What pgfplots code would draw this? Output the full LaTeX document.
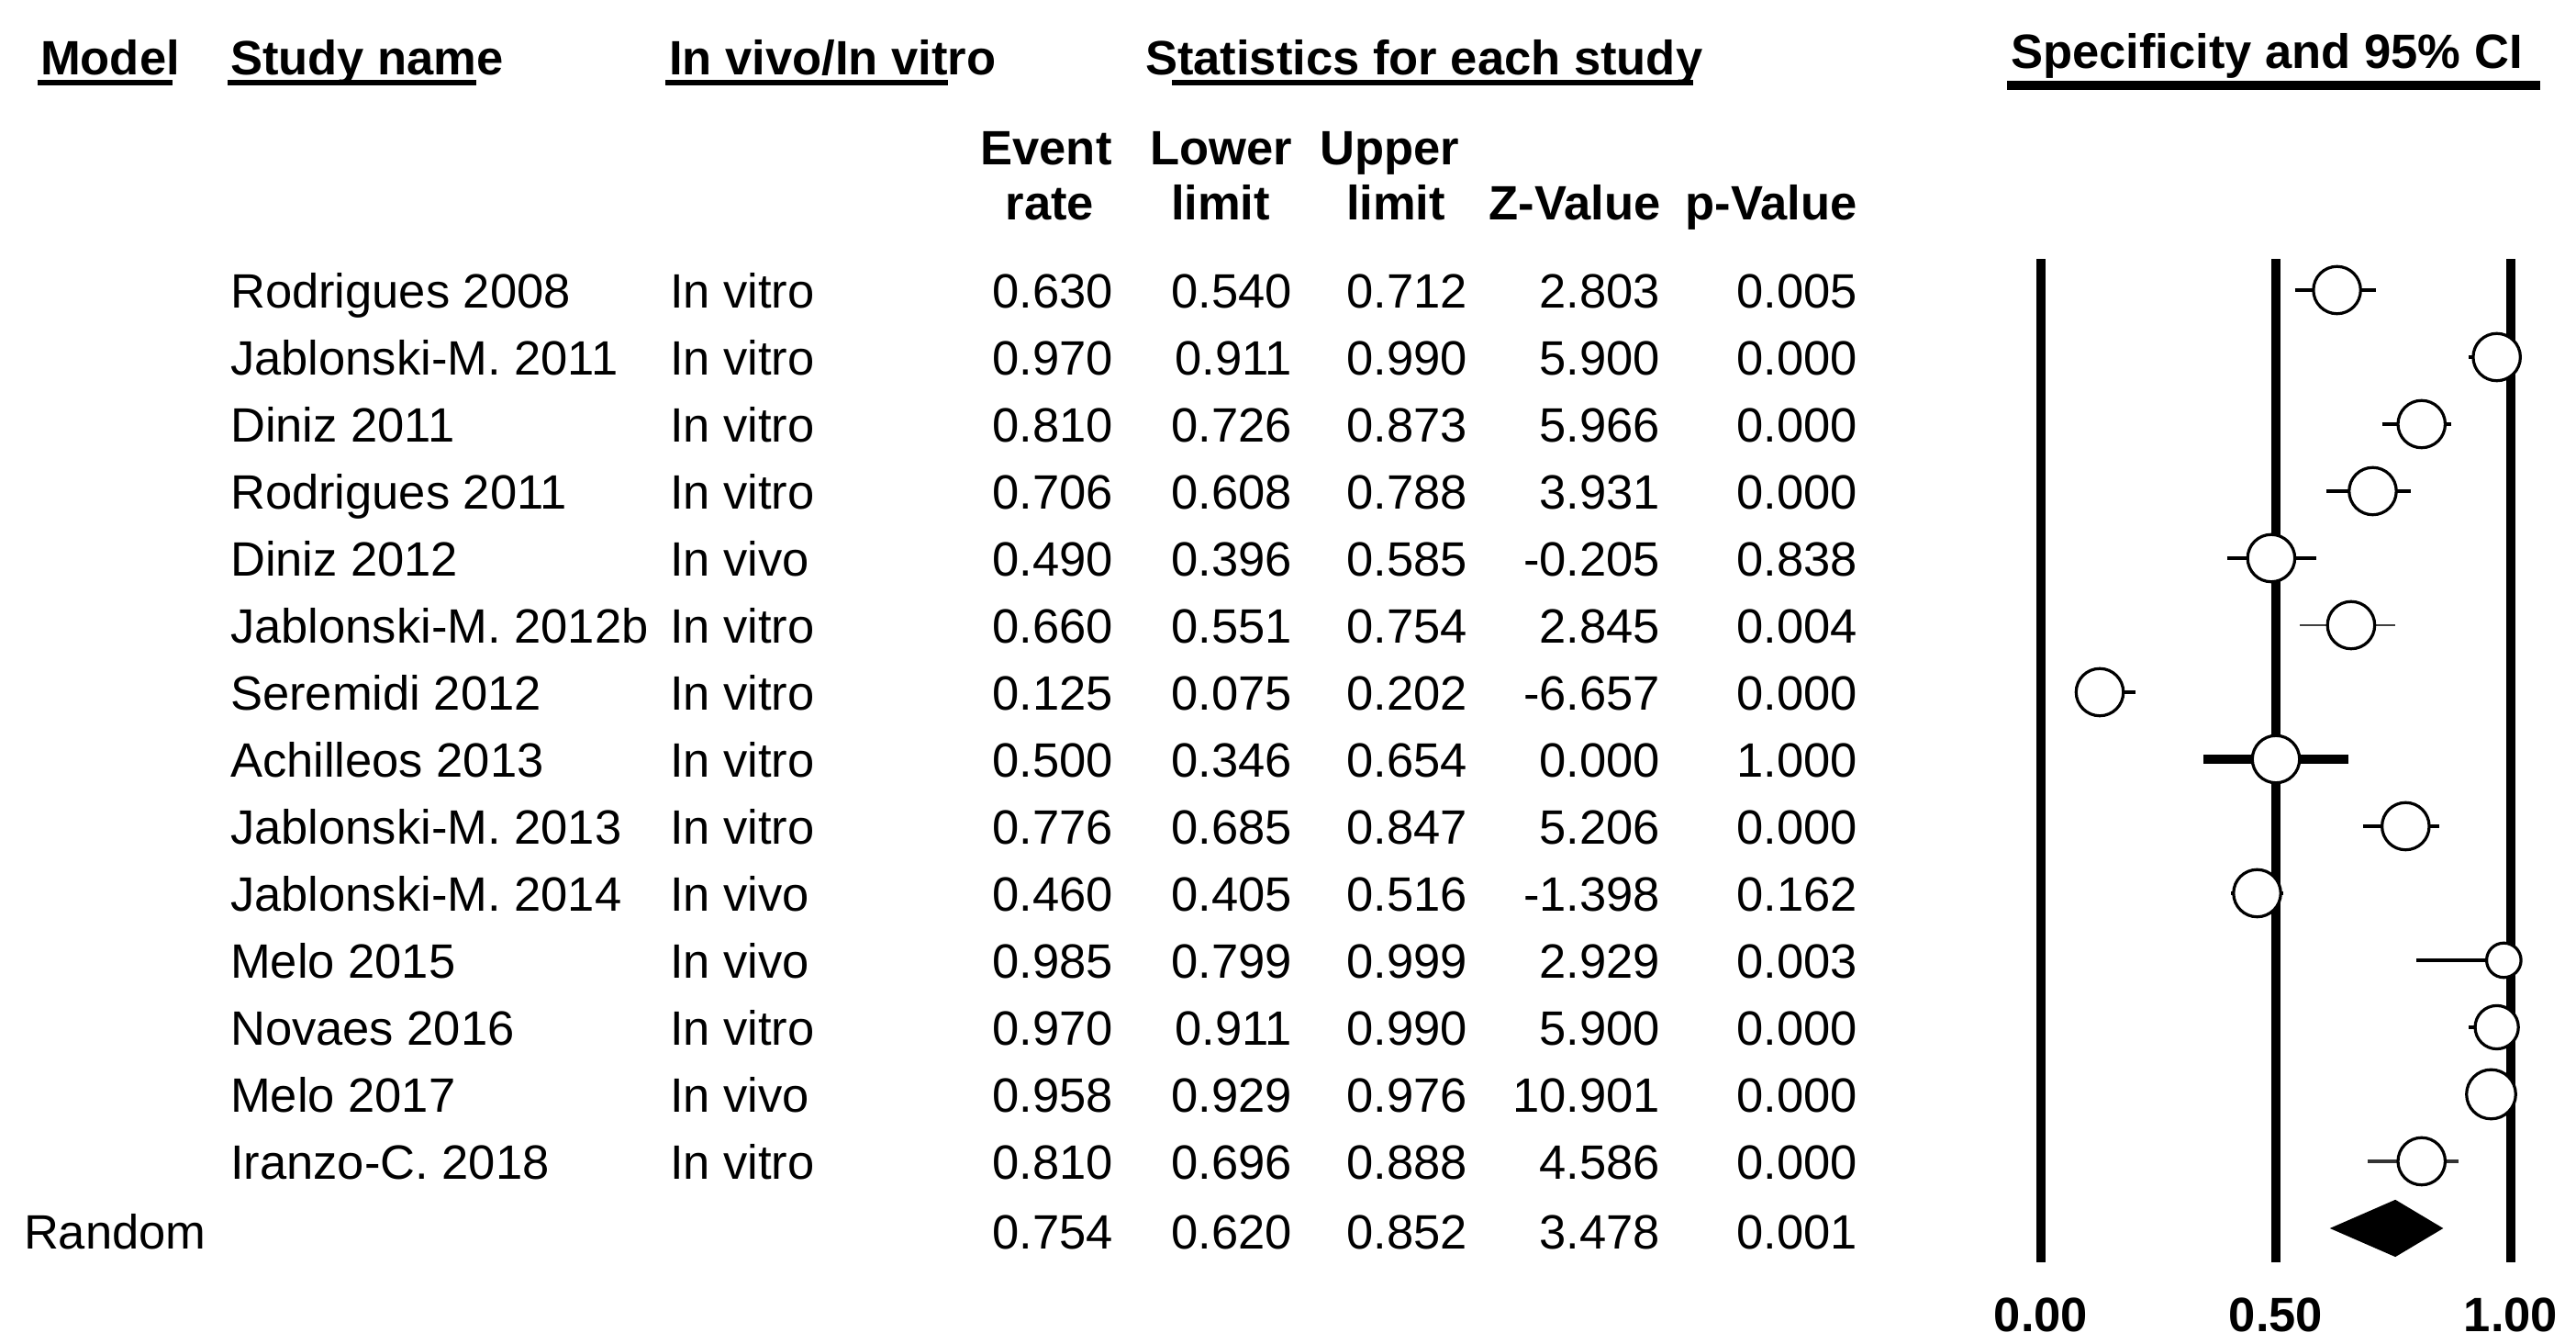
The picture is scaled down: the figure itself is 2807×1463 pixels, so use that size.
\documentclass[border=0pt]{standalone}
\usepackage{fontspec}
\setmainfont{Liberation Sans}
\usepackage{pgfplots}
\pgfplotsset{compat=1.18}
\newcommand\fs{\fontsize{9.8pt}{12pt}\selectfont}
\begin{document}
\begin{tikzpicture}[x=0.18657pt,y=0.18657pt,
  every node/.style={font=\fs, inner sep=0pt}]
\useasboundingbox (0,0) rectangle (2807,1463);
% ---------- headers ----------
\node[anchor=base west,font=\fs\bfseries] at (43,1381) {Model};
\node[anchor=base west,font=\fs\bfseries] at (250,1381) {Study name};
\node[anchor=base west,font=\fs\bfseries] at (728,1381) {In vivo/In vitro};
\node[anchor=base west,font=\fs\bfseries] at (1247,1381) {Statistics for each study};
\node[anchor=base west,font=\fs\bfseries] at (2190,1388) {Specificity and 95\% CI};
\draw[line width=1.1pt] (41,1373) -- (188,1373);
\draw[line width=1.1pt] (248,1373) -- (519,1373);
\draw[line width=1.1pt] (725,1373) -- (1033,1373);
\draw[line width=1.1pt] (1277,1373) -- (1845,1373);
\draw[line width=1.7pt] (2187,1370) -- (2768,1370);
\begin{scope}[every node/.append style={font=\fs\bfseries, anchor=base}]
\node at (1140,1283) {Event};
\node at (1144,1223) {rate};
\node at (1331,1283) {Lower};
\node at (1330,1223) {limit};
\node at (1514,1283) {Upper};
\node at (1521,1223) {limit};
\node at (1716,1223) {Z-Value};
\node at (1930,1223) {p-Value};
\end{scope}
% ---------- table rows ----------
\foreach \i/\n/\t/\a/\b/\c/\z/\p in {
 0/Rodrigues 2008/In vitro/0.630/0.540/0.712/2.803/0.005,
 1/Jablonski-M. 2011/In vitro/0.970/0.911/0.990/5.900/0.000,
 2/Diniz 2011/In vitro/0.810/0.726/0.873/5.966/0.000,
 3/Rodrigues 2011/In vitro/0.706/0.608/0.788/3.931/0.000,
 4/Diniz 2012/In vivo/0.490/0.396/0.585/-0.205/0.838,
 5/Jablonski-M. 2012b/In vitro/0.660/0.551/0.754/2.845/0.004,
 6/Seremidi 2012/In vitro/0.125/0.075/0.202/-6.657/0.000,
 7/Achilleos 2013/In vitro/0.500/0.346/0.654/0.000/1.000,
 8/Jablonski-M. 2013/In vitro/0.776/0.685/0.847/5.206/0.000,
 9/Jablonski-M. 2014/In vivo/0.460/0.405/0.516/-1.398/0.162,
 10/Melo 2015/In vivo/0.985/0.799/0.999/2.929/0.003,
 11/Novaes 2016/In vitro/0.970/0.911/0.990/5.900/0.000,
 12/Melo 2017/In vivo/0.958/0.929/0.976/10.901/0.000,
 13/Iranzo-C. 2018/In vitro/0.810/0.696/0.888/4.586/0.000}{
  \pgfmathsetmacro\yy{1127-73*\i}
  \node[anchor=base west] at (250,\yy) {\n};
  \node[anchor=base west] at (729,\yy) {\t};
  \node[anchor=base east] at (1214,\yy) {\a};
  \node[anchor=base east] at (1409,\yy) {\b};
  \node[anchor=base east] at (1600,\yy) {\c};
  \node[anchor=base east] at (1810,\yy) {\z};
  \node[anchor=base east] at (2025,\yy) {\p};
}
\node[anchor=base west] at (25,103) {Random};
\node[anchor=base east] at (1214,103) {0.754};
\node[anchor=base east] at (1409,103) {0.620};
\node[anchor=base east] at (1600,103) {0.852};
\node[anchor=base east] at (1810,103) {3.478};
\node[anchor=base east] at (2025,103) {0.001};
% ---------- forest plot ----------
\begin{axis}[at={(414.93pt,16.42pt)}, anchor=south west, scale only axis,
  width=95.52pt, height=203.92pt,
  xmin=0, xmax=1, ymin=-14.507, ymax=0.466, clip=false,
  axis line style={draw=none}, ytick=\empty,
  xtick={0,0.5,1}, xticklabels={0.00,0.50,1.00},
  major tick length=0pt,
  xticklabel style={font=\fs\bfseries, anchor=base, yshift=-14.1pt, inner sep=0pt}]
% reference lines
\addplot[line width=1.8pt] coordinates {(0,-14.507) (0,0.466)};
\addplot[line width=1.8pt] coordinates {(0.5,-14.507) (0.5,0.466)};
\addplot[line width=1.8pt] coordinates {(1,-14.507) (1,0.466)};
% confidence intervals
\addplot[line width=0.8pt] coordinates {(0.540,0) (0.712,0)};
\addplot[line width=0.8pt] coordinates {(0.911,-1) (0.990,-1)};
\addplot[line width=0.6pt] coordinates {(0.726,-2) (0.873,-2)};
\addplot[line width=0.9pt] coordinates {(0.608,-3) (0.788,-3)};
\addplot[line width=0.9pt] coordinates {(0.396,-4) (0.585,-4)};
\addplot[line width=0.5pt, black!75] coordinates {(0.551,-5) (0.754,-5)};
\addplot[line width=0.9pt] coordinates {(0.075,-6) (0.202,-6)};
\addplot[line width=1.7pt] coordinates {(0.346,-7) (0.654,-7)};
\addplot[line width=0.9pt] coordinates {(0.685,-8) (0.847,-8)};
\addplot[line width=0.9pt] coordinates {(0.405,-9) (0.516,-9)};
\addplot[line width=0.7pt] coordinates {(0.799,-10) (0.999,-10)};
\addplot[line width=0.8pt] coordinates {(0.911,-11) (0.990,-11)};
\addplot[line width=0.8pt] coordinates {(0.929,-12) (0.976,-12)};
\addplot[line width=0.6pt, black!80] coordinates {(0.696,-13) (0.888,-13)};
% point estimates
\addplot[only marks, mark=*, mark size=4.8pt, mark options={fill=white, draw=black, line width=0.6pt}] coordinates {
 (0.630,0) (0.970,-1) (0.810,-2) (0.706,-3) (0.490,-4) (0.660,-5) (0.125,-6)
 (0.500,-7) (0.776,-8) (0.460,-9) (0.810,-13)};
\addplot[only marks, mark=*, mark size=3.5pt, mark options={fill=white, draw=black, line width=0.6pt}] coordinates {(0.985,-10)};
\addplot[only marks, mark=*, mark size=4.4pt, mark options={fill=white, draw=black, line width=0.6pt}] coordinates {(0.970,-11)};
\addplot[only marks, mark=*, mark size=5.0pt, mark options={fill=white, draw=black, line width=0.6pt}] coordinates {(0.958,-12)};
% summary diamond
\addplot[fill=black, draw=black] coordinates {(0.620,-14) (0.754,-13.59) (0.852,-14) (0.754,-14.41)} -- cycle;
\end{axis}
\end{tikzpicture}
\end{document}
